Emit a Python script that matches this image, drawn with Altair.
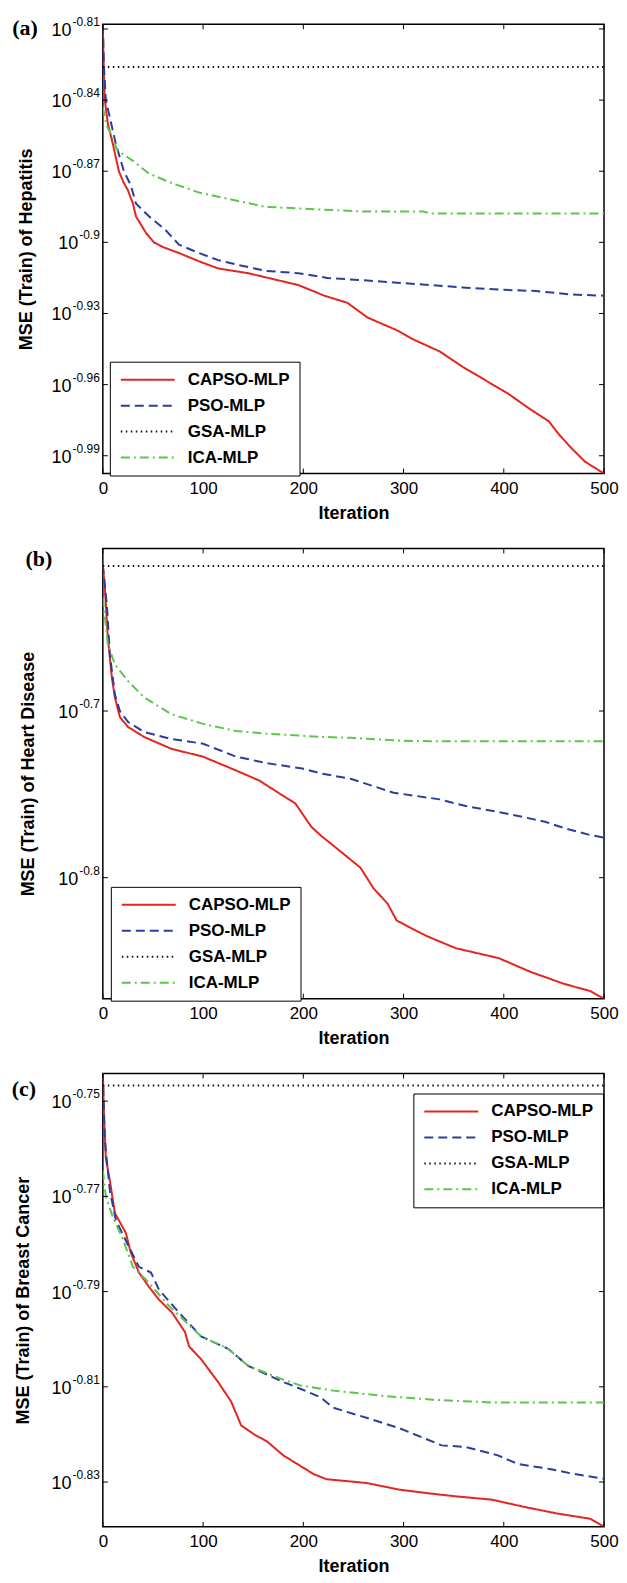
import altair as alt
import pandas as pd

ALGS = ["CAPSO-MLP", "PSO-MLP", "GSA-MLP", "ICA-MLP"]
COLORS = ["#e4261f", "#2b3d9e", "#111111", "#5bc64a"]
DASHES = [[1, 0], [9, 5], [1.5, 3.5], [9, 4, 2, 4]]
X_TICKS = [0, 100, 200, 300, 400, 500]

# ---- panel (a): Hepatitis (values are log10 of MSE) ----
a_capso_it = [0, 1, 2, 5, 10, 16, 21, 25, 30, 33, 43, 51, 60, 76, 96, 115, 145, 175, 195, 221, 244, 264, 293, 310, 336, 359, 385, 405, 425, 445, 455, 468, 481, 500]
a_capso_e = [-0.809, -0.828, -0.840, -0.850, -0.8585, -0.870, -0.875, -0.878, -0.8836, -0.889, -0.896, -0.900, -0.902, -0.9045, -0.908, -0.911, -0.913, -0.916, -0.918, -0.9225, -0.9255, -0.9317, -0.937, -0.941, -0.946, -0.9525, -0.959, -0.964, -0.970, -0.9755, -0.981, -0.987, -0.9925, -0.9975]
a_pso_it = [0, 1, 3, 13, 21, 28, 33, 46, 63, 76, 96, 115, 135, 162, 195, 224, 261, 293, 326, 359, 399, 432, 468, 500]
a_pso_e = [-0.808, -0.825, -0.840, -0.8585, -0.870, -0.876, -0.8836, -0.889, -0.895, -0.901, -0.9045, -0.9075, -0.9095, -0.912, -0.913, -0.915, -0.916, -0.917, -0.918, -0.919, -0.920, -0.9205, -0.922, -0.9225]
a_gsa_it = [0, 500]
a_gsa_e = [-0.826, -0.826]
a_ica_it = [0, 4, 10, 14, 30, 46, 69, 96, 129, 162, 195, 261, 320, 326, 500]
a_ica_e = [-0.843, -0.851, -0.8556, -0.861, -0.8656, -0.871, -0.875, -0.879, -0.882, -0.885, -0.8857, -0.887, -0.887, -0.8878, -0.8878]
a_dom = [-0.9975, -0.808]
a_ylabs = ["-0.81", "-0.84", "-0.87", "-0.9", "-0.93", "-0.96", "-0.99"]

# ---- panel (b): Heart Disease ----
b_capso_it = [0, 2, 5, 9, 12, 17, 25, 41, 68, 100, 133, 156, 176, 192, 208, 218, 228, 257, 270, 284, 293, 306, 323, 352, 395, 427, 460, 486, 500]
b_capso_e = [-0.613, -0.626, -0.656, -0.680, -0.6917, -0.7036, -0.7095, -0.7155, -0.7226, -0.7274, -0.7357, -0.7417, -0.7494, -0.7554, -0.7695, -0.775, -0.7798, -0.794, -0.8064, -0.8155, -0.8256, -0.8298, -0.835, -0.8423, -0.8483, -0.8566, -0.8637, -0.868, -0.8726]
b_pso_it = [0, 4, 7, 12, 17, 25, 41, 68, 100, 133, 166, 199, 218, 248, 290, 336, 362, 401, 441, 460, 486, 500]
b_pso_e = [-0.6125, -0.6363, -0.666, -0.690, -0.700, -0.7065, -0.7125, -0.7167, -0.7196, -0.7274, -0.7315, -0.7345, -0.7375, -0.7408, -0.749, -0.753, -0.757, -0.7613, -0.7664, -0.7702, -0.7744, -0.776]
b_gsa_it = [0, 500]
b_gsa_e = [-0.613, -0.613]
b_ica_it = [0, 5, 12, 25, 41, 68, 100, 133, 166, 218, 248, 297, 339, 500]
b_ica_e = [-0.632, -0.660, -0.672, -0.682, -0.6917, -0.7018, -0.7077, -0.712, -0.7137, -0.7155, -0.7161, -0.7178, -0.7182, -0.7182]
b_dom = [-0.8726, -0.6024]
b_ylabs = ["-0.7", "-0.8"]

# ---- panel (c): Breast Cancer ----
c_capso_it = [0, 1, 3, 7, 12, 23, 28, 36, 46, 56, 69, 82, 86, 98, 115, 128, 138, 151, 164, 180, 197, 210, 223, 263, 296, 322, 352, 388, 420, 453, 486, 500]
c_capso_e = [-0.744, -0.752, -0.762, -0.7667, -0.7735, -0.7777, -0.7819, -0.786, -0.789, -0.7917, -0.7944, -0.7985, -0.8015, -0.8042, -0.809, -0.8131, -0.8181, -0.820, -0.8215, -0.8244, -0.8266, -0.8283, -0.8294, -0.8302, -0.8316, -0.8323, -0.833, -0.8337, -0.8352, -0.8366, -0.8377, -0.8394]
c_pso_it = [0, 1, 2, 7, 13, 26, 36, 48, 56, 76, 98, 125, 145, 180, 197, 217, 230, 263, 296, 338, 361, 394, 414, 447, 470, 500]
c_pso_e = [-0.744, -0.7515, -0.7583, -0.7688, -0.775, -0.7806, -0.7848, -0.786, -0.7896, -0.7944, -0.7994, -0.802, -0.8056, -0.809, -0.8104, -0.8122, -0.8144, -0.8165, -0.8187, -0.8223, -0.8226, -0.8244, -0.8262, -0.8273, -0.8283, -0.8293]
c_gsa_it = [0, 500]
c_gsa_e = [-0.7467, -0.7467]
c_ica_it = [0, 3, 10, 20, 30, 43, 66, 98, 125, 145, 180, 197, 230, 279, 329, 388, 500]
c_ica_e = [-0.7646, -0.770, -0.7744, -0.779, -0.7848, -0.7875, -0.793, -0.7994, -0.802, -0.8056, -0.8085, -0.8097, -0.8108, -0.8119, -0.8127, -0.8133, -0.8133]
c_dom = [-0.8394, -0.7442]
c_ylabs = ["-0.75", "-0.77", "-0.79", "-0.81", "-0.83"]

W = 502


def make_df(series):
    rows = []
    for alg, (its, es) in zip(ALGS, series):
        for i, e in zip(its, es):
            rows.append({"alg": alg, "it": i, "mse": 10 ** e})
    return pd.DataFrame(rows)


def panel(df, edom, ylabs, ytitle, tpad, letter, lxy, legxy, H):
    xsc = alt.Scale(domain=[0, 500], nice=False, zero=False)
    ysc = alt.Scale(type="log", domain=[10 ** edom[0], 10 ** edom[1]], nice=False)
    leg = alt.Legend(title=None, orient="none", legendX=legxy[0], legendY=legxy[1],
                     direction="vertical", symbolType="stroke", symbolSize=2916,
                     symbolStrokeWidth=2, labelFontSize=17, labelFontWeight="bold",
                     labelFont="Liberation Sans", labelColor="black",
                     strokeColor="black", fillColor="white", padding=10,
                     rowPadding=9, labelOffset=12, clipHeight=16)
    x = alt.X("it:Q", scale=xsc,
              axis=alt.Axis(values=X_TICKS, title="Iteration", grid=False, ticks=False,
                            domain=False, labelPadding=7, labelFontSize=17,
                            titleFontSize=18, titleFontWeight="bold", titlePadding=8,
                            labelFlush=False))
    y = alt.Y("mse:Q", scale=ysc,
              axis=alt.Axis(labels=False, ticks=False, domain=False, grid=False,
                            title=ytitle, titleFontSize=18, titleFontWeight="bold",
                            titlePadding=tpad))
    lines = alt.Chart(df).mark_line(strokeWidth=2, clip=True).encode(
        x=x, y=y,
        color=alt.Color("alg:N", scale=alt.Scale(domain=ALGS, range=COLORS), legend=leg),
        strokeDash=alt.StrokeDash("alg:N", scale=alt.Scale(domain=ALGS, range=DASHES), legend=leg),
    )
    xt = pd.DataFrame({"it": X_TICKS})
    xt_bot = alt.Chart(xt).mark_rule(color="black", strokeWidth=1).encode(
        x="it:Q", y=alt.value(H), y2=alt.value(H - 5))
    xt_top = alt.Chart(xt).mark_rule(color="black", strokeWidth=1).encode(
        x="it:Q", y=alt.value(0), y2=alt.value(5))
    yt = pd.DataFrame({"lab": ylabs})
    calc = "pow(10, toNumber(datum.lab))"
    yt_l = alt.Chart(yt).transform_calculate(mse=calc).mark_rule(color="black", strokeWidth=1).encode(
        y="mse:Q", x=alt.value(0), x2=alt.value(5))
    yt_r = alt.Chart(yt).transform_calculate(mse=calc).mark_rule(color="black", strokeWidth=1).encode(
        y="mse:Q", x=alt.value(W), x2=alt.value(W - 5))
    lab_exp = alt.Chart(yt).transform_calculate(mse=calc).mark_text(
        align="right", baseline="middle", fontSize=12, dy=-7, font="Liberation Sans", color="black"
    ).encode(y="mse:Q", x=alt.value(-3), text="lab:N")
    lab_base = alt.Chart(yt).transform_calculate(
        mse=calc, bx="-4 - 12*(0.333 + 0.278 + 0.556*(length(datum.lab) - 2))"
    ).mark_text(
        align="right", baseline="middle", fontSize=18, dy=2, font="Liberation Sans", color="black"
    ).encode(y="mse:Q", x=alt.X("bx:Q", scale=None), text=alt.value("10"))
    let = alt.Chart(pd.DataFrame({"t": [letter]})).mark_text(
        font="Liberation Serif", fontWeight="bold", fontSize=22, align="center",
        baseline="middle", color="black"
    ).encode(text="t:N", x=alt.value(lxy[0]), y=alt.value(lxy[1]))
    return alt.layer(lines, xt_bot, xt_top, yt_l, yt_r, lab_exp, lab_base, let).properties(
        width=W, height=H)


pa = panel(make_df([(a_capso_it, a_capso_e), (a_pso_it, a_pso_e), (a_gsa_it, a_gsa_e), (a_ica_it, a_ica_e)]),
           a_dom, a_ylabs, "MSE (Train) of Hepatitis", 67, "(a)", (-78, 4), (7, 338), 450)
pb = panel(make_df([(b_capso_it, b_capso_e), (b_pso_it, b_pso_e), (b_gsa_it, b_gsa_e), (b_ica_it, b_ica_e)]),
           b_dom, b_ylabs, "MSE (Train) of Heart Disease", 65, "(b)", (-64, 11), (8, 339), 451)
pc = panel(make_df([(c_capso_it, c_capso_e), (c_pso_it, c_pso_e), (c_gsa_it, c_gsa_e), (c_ica_it, c_ica_e)]),
           c_dom, c_ylabs, "MSE (Train) of Breast Cancer", 70, "(c)", (-79, 15), (311, 20), 454)

chart = alt.vconcat(pa, pb, pc, spacing=23).resolve_scale(
    color="independent", strokeDash="independent", x="independent", y="independent"
).resolve_legend(color="independent", strokeDash="independent").properties(
    padding={"left": 3, "top": 5, "right": 0, "bottom": 0}
).configure_view(stroke="black", strokeWidth=1.5).configure_axis(
    labelFont="Liberation Sans", titleFont="Liberation Sans", labelColor="black", titleColor="black"
)

chart.save("out.html", embed_options={"renderer": "svg", "actions": False})
